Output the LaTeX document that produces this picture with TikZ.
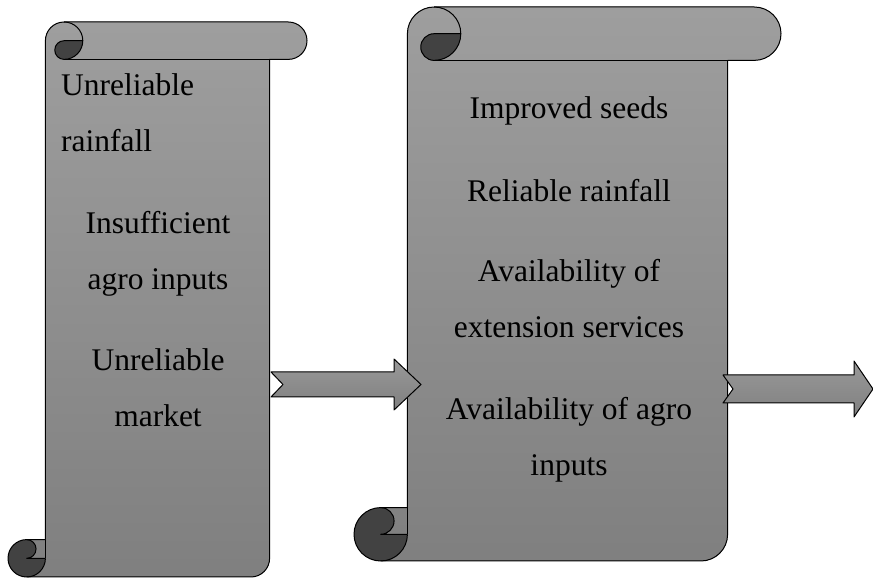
\documentclass[tikz,border=0pt]{standalone}
\usepackage{fontspec}
\setmainfont{Liberation Serif}
\usetikzlibrary{positioning}

% vertical scroll: left, bottom, right, top, roll size
\newcommand{\scrollshape}[5]{%
  \pgfmathsetmacro{\sB}{#2}\pgfmathsetmacro{\sT}{#4}%
  \pgfmathsetmacro{\sh}{#5/2}\pgfmathsetmacro{\sq}{#5/4}%
  \pgfmathsetmacro{\xa}{#1+#5}\pgfmathsetmacro{\xh}{#1+#5/2}%
  \pgfmathsetmacro{\xc}{#1+1.5*#5}\pgfmathsetmacro{\xd}{#1+2*#5}%
  \pgfmathsetmacro{\xf}{#3-#5}\pgfmathsetmacro{\xg}{#3-#5/2}%
  \pgfmathsetmacro{\ya}{#4-#5/2}\pgfmathsetmacro{\yb}{#4-#5}%
  \pgfmathsetmacro{\yc}{#2+#5}\pgfmathsetmacro{\yd}{#2+#5/2}%
  % sheet
  \fill[scrollfill] (\xh,\sB) arc[start angle=270,end angle=360,radius=\sh]
    -- (\xh,\yd) arc[start angle=270,end angle=90,radius=\sq]
    -- (\xa,\yc) -- (\xa,\ya) arc[start angle=180,end angle=90,radius=\sh]
    -- (\xg,\sT) arc[start angle=90,end angle=-90,radius=\sh]
    -- (\xf,\yb) -- (\xf,\yd) arc[start angle=0,end angle=-90,radius=\sh]
    -- cycle;
  % dark roll ends
  \fill[rollfill] (\xd,\ya) arc[start angle=0,end angle=-90,radius=\sh]
    arc[start angle=270,end angle=90,radius=\sq] -- cycle;
  \fill[rollfill] (\xa,\yd) arc[start angle=0,end angle=-270,radius=\sh]
    arc[start angle=90,end angle=-90,radius=\sq] -- cycle;
  % outline
  \draw[outline] (\xa,\yc) -- (\xa,\ya) arc[start angle=180,end angle=90,radius=\sh]
    -- (\xg,\sT) arc[start angle=90,end angle=-90,radius=\sh]
    -- (\xf,\yb) -- (\xf,\yd) arc[start angle=0,end angle=-90,radius=\sh]
    -- (\xh,\sB) arc[start angle=270,end angle=90,radius=\sh] -- cycle;
  \draw[outline] (\xc,\sT) arc[start angle=90,end angle=-90,radius=\sh]
    arc[start angle=270,end angle=90,radius=\sq] -- (\xd,\ya);
  \draw[outline] (\xf,\yb) -- (\xc,\yb);
  \draw[outline] (\xh,\yc) arc[start angle=90,end angle=-90,radius=\sq] -- (\xa,\yd);
  \draw[outline] (\xh,\sB) arc[start angle=270,end angle=360,radius=\sh];
  \draw[outline] (\xa,\yc) -- (\xa,\yd);
}

% notched block arrow: tail x, mid y, notch, shaft half, head x, head half, tip x
\newcommand{\blockarrow}[7]{%
  \draw[arrowfill] (#1,#2+#4) -- (#5,#2+#4) -- (#5,#2+#6) -- (#7,#2)
    -- (#5,#2-#6) -- (#5,#2-#4) -- (#1,#2-#4) -- (#1+#3,#2) -- cycle;
}

\begin{document}
\begin{tikzpicture}[x=1pt, y=1pt,
    outline/.style={draw=black, line width=1pt, line join=round},
    scrollfill/.style={top color=black!38, bottom color=black!50},
    rollfill/.style={fill=black!74},
    arrowfill/.style={outline, top color=black!40, bottom color=black!50},
    txt/.style={font=\fontsize{31.5}{56}\selectfont, inner sep=0pt}]
  \useasboundingbox (0,0) rectangle (873,578);

  \scrollshape{8}{1}{307}{556}{37.4}
  \scrollshape{354}{17}{781}{571}{53.4}

  \blockarrow{271}{193.5}{12}{12.5}{394}{25.5}{421}
  \blockarrow{723}{189}{10}{14}{854}{28}{873}

  % left scroll
  \node[txt, anchor=base west, align=left] (rain) at (61,426) {Unreliable\\rainfall};
  \node[txt, anchor=base, align=center] (inputs) at (158,288) {Insufficient\\agro inputs};
  \node[txt, anchor=base, align=center] (market) at (158,151) {Unreliable\\market};

  % right scroll
  \node[txt, anchor=base] (seeds) at (569,459) {Improved seeds};
  \node[txt, anchor=base] (reliable) at (569,376) {Reliable rainfall};
  \node[txt, anchor=base, align=center] (extension) at (569,240) {Availability of\\extension services};
  \node[txt, anchor=base, align=center] (agro) at (569,102) {Availability of agro\\inputs};
\end{tikzpicture}
\end{document}
